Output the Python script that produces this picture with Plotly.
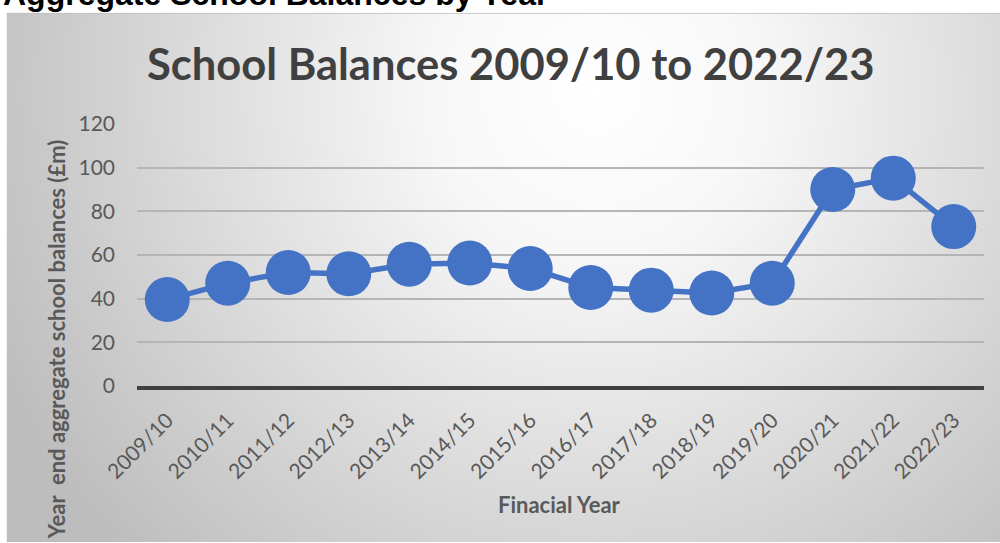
import base64
import plotly.graph_objects as go

# ---- data ----
years = ["2009/10", "2010/11", "2011/12", "2012/13", "2013/14", "2014/15", "2015/16",
         "2016/17", "2017/18", "2018/19", "2019/20", "2020/21", "2021/22", "2022/23"]
balances = [39.6, 47.1, 52.0, 51.4, 55.8, 56.3, 53.8, 45.1, 43.9, 42.6, 47.1, 90.0, 95.2, 73.0]
y_ticks = [0, 20, 40, 60, 80, 100, 120]

W, H = 1000, 543
L, R, T, B = 137.4, 16, 123.7, 156.5
PW, PH = W - L - R, H - T - B


def px(x):
    return (x - L) / PW


def py(y):
    return 1 - (y - T) / PH


# radial gradient background of the chart box
BX0, BY0, BW, BH = 7, 12, 993, 531
svg = f'''<svg xmlns="http://www.w3.org/2000/svg" width="{BW}" height="{BH}" viewBox="0 0 {BW} {BH}">
<defs><radialGradient id="g" gradientUnits="userSpaceOnUse" cx="590" cy="80" r="660">
<stop offset="0" stop-color="#ffffff"/><stop offset="0.25" stop-color="#f7f7f7"/>
<stop offset="1" stop-color="#bdbdbd"/></radialGradient></defs>
<rect x="0" y="0" width="{BW}" height="{BH}" fill="url(#g)"/>
<line x1="0" y1="0.5" x2="{BW}" y2="0.5" stroke="#bfbfbf" stroke-width="1"/>
</svg>'''
src = "data:image/svg+xml;base64," + base64.b64encode(svg.encode()).decode()

fig = go.Figure()
fig.add_trace(go.Scatter(
    x=years, y=balances, mode="lines+markers",
    line=dict(color="#4472C4", width=5.5),
    marker=dict(color="#4472C4", size=45),
    hoverinfo="x+y", showlegend=False,
))

fig.add_layout_image(dict(
    source=src, xref="paper", yref="paper",
    x=px(BX0), y=py(BY0), sizex=BW / PW, sizey=BH / PH,
    xanchor="left", yanchor="top", sizing="stretch", layer="below",
))

font = "Lato, 'Open Sans', sans-serif"
fig.update_layout(
    width=W, height=H,
    margin=dict(l=L, r=R, t=T, b=B, autoexpand=False),
    paper_bgcolor="white", plot_bgcolor="rgba(0,0,0,0)",
    font=dict(family=font, color="#595959", size=21),
    xaxis=dict(
        type="category", tickangle=-45, showgrid=False,
        showline=True, linecolor="#404040", linewidth=3.5,
        ticks="", ticklabelstandoff=10,
        tickfont=dict(size=21, color="#595959"),
        range=[-0.5, len(years) - 0.5],
    ),
    yaxis=dict(
        range=[0, 120], tickvals=y_ticks, showgrid=True,
        gridcolor="#b5b5b5", gridwidth=1.5, zeroline=False,
        showline=False, ticks="", ticklabelstandoff=21,
        tickfont=dict(size=21, color="#595959"),
    ),
    annotations=[
        dict(text="<b>Aggregate School Balances by Year</b>", xref="paper", yref="paper",
             x=px(1), y=py(13), xanchor="left", yanchor="bottom", showarrow=False,
             font=dict(family="'Liberation Sans', Arial, sans-serif", size=32, color="black")),
        dict(text="<b>School Balances 2009/10 to 2022/23</b>", xref="paper", yref="paper",
             x=px(510.5), y=py(63), xanchor="center", yanchor="middle", showarrow=False,
             font=dict(family=font, size=43.5, color="#404040")),
        dict(text="<b>Finacial Year</b>", xref="paper", yref="paper",
             x=px(560), y=py(505), xanchor="center", yanchor="middle", showarrow=False,
             font=dict(family=font, size=22, color="#595959")),
        dict(text="<b>Year\u00a0 end aggregate school balances (£m)</b>", xref="paper", yref="paper",
             x=px(57), y=py(340), xanchor="center", yanchor="middle", textangle=-90,
             showarrow=False, font=dict(family=font, size=22, color="#595959")),
    ],
)

fig.write_html("out.html")
